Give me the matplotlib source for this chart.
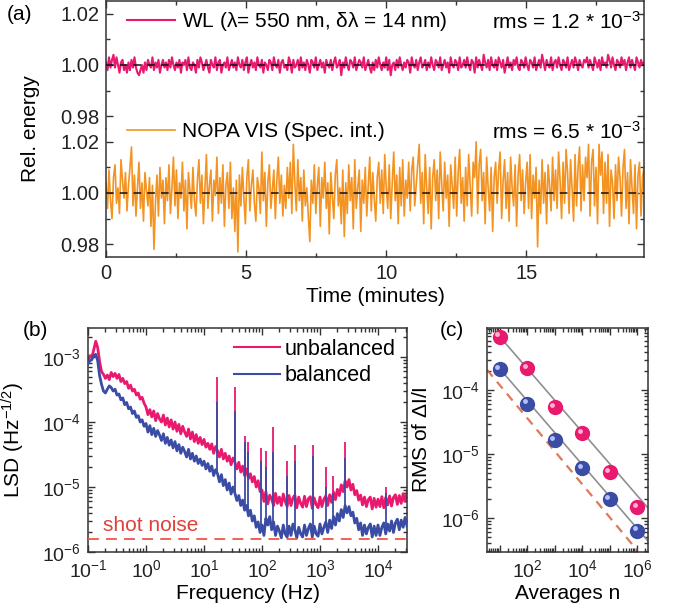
import numpy as np
import matplotlib
matplotlib.use("Agg")
import matplotlib.pyplot as plt
from matplotlib.ticker import LogLocator, NullFormatter, MultipleLocator, FixedLocator
from matplotlib.transforms import offset_copy

plt.rcParams['font.family'] = ['Liberation Sans', 'DejaVu Sans']
plt.rcParams['mathtext.default'] = 'regular'
plt.rcParams['font.size'] = 15
plt.rcParams['axes.linewidth'] = 1.1
plt.rcParams['axes.edgecolor'] = '#333333'

PINK = '#e8196e'
ORANGE = '#f39322'
BLUE = '#3a4ca3'

# ---- panel (a): relative pulse energy, deviations in units of 1e-3 ----
wl_dev = [1, -2, 3, -1, 2, 4, -1, 3, 0, -3, 1, 2, -2, 0, -3, 1, -2, 2, -1, 3,
          -1, -3, -4, -2, 0, -3, 1, -2, 2, 0, -1, 3, -2, 1, -1, 2, -3, 0, 2, -1,
          1, -2, 2, -1, 3, 0, -2, 1, -1, 2, -3, 1, 0, 2, -2, 3, -1, -2, 1, 0,
          -3, 2, -1, 3, 1, -2, 0, 2, -1, -3, 2, 0, -1, 3, -2, 1, 2, -3, 0, 1,
          -1, 3, -2, 0, 2, -1, 1, -2, 3, 0, -1, 2, -2, 1, 3, -3, 0, 2, -1, 1,
          -2, 3, 0, -1, 2, -3, 1, 0, -2, 2, 1, -2, 3, 0, -1, 2, -3, 1, 2, -1,
          0, -2, 3, 1, -3, 2, -1, 0, 2, -2, 3, -1, 1, -2, 2, 0, -3, 2, 1, -1,
          3, -2, 0, 2, -1, 1, -3, 2, 0, -1, 2, -2, 1, 3, -1, 0, 2, -4, 1, -1,
          3, 0, -2, 2, 1, -1, 3, -2, 0, 2, 1, -1, 3, -2, 0, 2, -1, -3, 1, -2,
          2, -1, 3, 0, -2, 1, -1, 3, -2, 2, -4, 0, 1, -2, 2, -1, 3, 0, -2, 1,
          -1, 2, 1, -3, 3, 0, -1, 2, -2, 1, 3, -1, 0, 2, -2, 1, -1, 3, 0, -2,
          2, 1, -1, 3, -2, 0, 2, -1, 1, -3, 3, 0, -1, 2, 1, -2, 3, -1, 0, 2,
          -1, 3, 0, -2, 2, 1, -3, 3, -1, 2, 0, -2, 4, 1, -1, 2, -2, 3, 0, -1,
          2, -2, 3, 1, -1, 2, -3, 0, 3, -1, 1, -2, 2, 0, 3, -1, -2, 2, 1, -1,
          3, 0, -2, 2, 1, -1, 3, -2, 0, 2, -1, 4, 1, -2, 2, 0, -1, 3, -2, 1,
          2, -1, 3, 0, -2, 2, 1, -1, 3, -2, 0, 2, -1, 3, 1, -2, 2, 0, -1, 2,
          1, 3, -1, 2, 0, -2, 3, 1, -1, 2, -2, 3, 0, 1, -1, 4, 2, -1, 3, 0,
          -2, 2, 1, -1, 3, 0, 2, -2, 1, 3, -1, 2, 0, -2, 3, 1, -1, 2, 0, 1]
nopa_dev = [4, -6, 9, -3, -10, 6, 11, -4, 2, -8, 13, 5, -2, 8, -7, 3, 10, 18, -5, 7,
            -9, 2, 12, -6, 4, -11, 8, 1, -5, 6, -13, 3, -22, -4, 7, -9, 10, -2, 5, -12,
            6, -3, 11, -8, 2, 14, -5, 9, -10, 4, -2, 12, -7, 5, -14, 8, 1, -6, 10, -3,
            -9, 5, 13, -4, 7, -12, 2, 15, -6, 3, 9, -11, 5, -1, 14, -8, 6, -4, 11, -13,
            3, 8, -6, 12, -10, 2, -15, 5, -23, 7, -5, 10, -2, -12, 6, 13, -7, 3, 9, -4,
            -11, 6, 2, -8, 16, -3, 8, -13, 4, 11, -6, 1, 9, -10, 5, 14, -4, 7, -9, 3,
            -6, 10, -2, 12, -8, 19, 4, -7, 13, -3, 6, -11, 9, -5, 2, -9, -19, 5, -4, 11,
            -8, 3, 10, -13, 6, -2, 12, -6, 4, -16, 8, -1, -10, 7, 13, -5, 2, -12, 9, -17,
            4, -8, 11, -3, 6, -14, 13, -6, 2, 9, -15, 5, -4, 10, -9, 3, 14, -7, 8, -2,
            -11, 6, 12, -4, 9, -8, 15, 2, -6, 11, -10, 4, 16, -3, 7, -12, 10, -5, 13, -9,
            5, -2, 12, -7, 9, 14, -5, 3, 11, 19, -4, 8, -12, 15, 2, -8, 10, -14, 6, 13,
            -3, 9, -10, 16, 4, -7, 12, -2, 7, -13, 11, 3, -6, 14, -9, 8, 17, -4, 6, -11,
            10, -5, 15, 3, -9, 12, 6, 20, -8, 11, 17, -3, 8, -12, 14, 2, -7, 10, -15, 6,
            12, -4, 9, 16, -10, 5, 13, -6, 8, -11, 14, 2, -5, 11, -13, 7, 15, -3, 9, -8,
            4, 12, -6, 15, -10, 7, -2, 10, -21, 5, -8, 13, -4, 8, -12, 11, 3, -7, 14, -3,
            9, -6, 16, 5, -10, 12, -4, 17, 8, -8, 13, 2, -11, 15, -5, 10, 18, -7, 11, -3,
            14, 6, 19, -9, 12, 17, -5, 10, -12, 19, 7, 16, -8, 12, -4, 15, -13, 9, 4, -10,
            11, -3, 14, 6, -9, 10, 17, -6, 8, -12, 13, 2, -8, 11, -14, 7, 12, -9, 6, 10]
t_end = 19.2  # minutes
top_tick_sec = [100, 200, 300, 400, 500, 600, 700, 800, 900, 1000, 1100]

# ---- panel (b): linear spectral density, units of 1e-6 Hz^-1/2 ----
f_range = (-1, 4.5)  # log10 Hz
lsd_unbal = [900, 1050, 1000, 1300, 1750, 1400, 850, 600, 540, 470, 530, 450, 580, 500, 560,
             470, 540, 420, 470, 390, 420, 330, 370, 300, 320, 260, 280, 225, 240, 195,
             170, 130, 155, 120, 148, 105, 135, 112, 100, 128, 90, 115, 84, 108, 78,
             100, 72, 92, 66, 86, 70, 60, 78, 55, 70, 50, 64, 47, 58, 45,
             54, 41, 47, 38, 46, 33, 42, 36, 29, 38, 27, 33, 25, 30, 22,
             28, 24, 19, 24, 17, 21, 15, 19, 13.5, 16, 12, 14.5, 10, 12.5, 8.5,
             9, 6, 8.5, 5.5, 7.5, 6.5, 5.2, 8, 5.6, 7, 5.2, 7.8, 6, 5, 7.4,
             5.2, 6.8, 7.5, 4.8, 7, 5.6, 4.9, 7.2, 5, 6.6, 7.1, 4.7, 6.8, 5.4, 4.8,
             7, 5, 6.5, 7.3, 5.2, 7.6, 5.8, 8.4, 6.4, 9.2, 7.4, 10.8, 8.5, 12.5, 10,
             13, 9, 11, 7.6, 8.8, 6.3, 7.5, 5.3, 7, 5, 6.4, 7, 4.6, 6.7, 4.9,
             6.5, 5, 7.1, 4.8, 6.9, 5.3, 7.3, 5.1, 6.9, 7.6, 5.4, 7.4, 5.6, 7.9, 6, 8.2]
lsd_bal = [780, 880, 920, 1050, 1100, 880, 520, 380, 300, 280, 320, 360, 340, 300, 320,
           260, 270, 220, 235, 185, 200, 160, 170, 135, 148, 118, 125, 100, 108, 86,
           95, 70, 88, 64, 80, 60, 74, 63, 52, 66, 47, 58, 44, 53, 40,
           50, 36, 45, 33, 41, 35, 29, 38, 27, 33, 25, 30, 23, 27, 21.5,
           25, 19, 23, 17.5, 21, 15, 18.5, 16, 12, 15.5, 10.5, 13, 9, 11.5, 7.8,
           10, 8, 6.2, 7.4, 5.2, 6.3, 4.4, 5.2, 3.6, 4.4, 3, 3.6, 2.4, 2.9, 2,
           2.6, 1.8, 3.3, 2.6, 3.5, 2.2, 2.9, 1.8, 2.5, 2.1, 1.65, 2.6, 1.9, 1.7, 2.5,
           1.8, 2.7, 2.2, 1.65, 2.4, 1.9, 1.7, 2.6, 1.8, 2.3, 2.7, 1.7, 2.5, 1.9, 1.75,
           2.7, 1.9, 2.4, 2.9, 2, 3.1, 2.3, 3.5, 2.6, 3.9, 3, 4.5, 3.4, 5.2, 4,
           5, 3.6, 4.1, 2.8, 3.3, 2.2, 2.8, 1.8, 2.6, 1.9, 2.4, 2.7, 1.7, 2.5, 1.8,
           2.6, 1.8, 2.4, 2.8, 1.9, 2.7, 2.1, 3, 2, 2.8, 3.2, 2.2, 3.1, 2.4, 3.4, 2.5]
spike_f = [16.5, 34, 50, 57, 95, 117, 155, 270, 370, 760, 1250, 1650, 2700, 14000]
spike_unbal = [500, 350, 60, 50, 40, 36, 84, 25, 45, 44, 20, 15, 50, 10]
spike_bal = [200, 150, 50, 35, 25, 20, 35, 15, 25, 30, 10, 8, 28, 8]
shot_noise = 1.6  # 1e-6 Hz^-1/2

# ---- panel (c): RMS vs number of averages ----
n_avg = [1e1, 1e2, 1e3, 1e4, 1e5, 1e6]
rms_unbal = [6.9e-4, 2.2e-4, 5.4e-5, 2.1e-5, 5.2e-6, 1.45e-6]
rms_bal = [2.15e-4, 6.2e-5, 1.65e-5, 6.0e-6, 1.95e-6, 6.2e-7]
fit_n = [10, 2.4e6]
fit_unbal = [7.0e-4, 1.45e-6]
fit_bal = [2.2e-4, 4.4e-7]
shot_n = [3.5, 1.0e6]
shot_rms = [2.1e-4, 3.1e-7]

fig = plt.figure(figsize=(6.77, 6.15), dpi=100)
W, H = 677.0, 615.0


def box(l, t, r, b):
    return [l / W, 1 - b / H, (r - l) / W, (b - t) / H]


def style(ax):
    ax.tick_params(which='both', direction='in', top=True, right=True,
                   colors='#333333', labelcolor='#222222', width=1.0, labelsize=14)
    ax.tick_params(which='major', length=5, pad=5)
    ax.tick_params(which='minor', length=3)


# (a)
ax1 = fig.add_axes(box(106, 1, 644, 129))
ax2 = fig.add_axes(box(106, 129, 644, 257), sharex=ax1)
t_wl = np.linspace(0, t_end, len(wl_dev))
t_nopa = np.linspace(0, t_end, len(nopa_dev))
ax1.plot(t_wl, 1 + np.array(wl_dev) * 1e-3, color=PINK, lw=1.5,
         label=r'WL ($\lambda$= 550 nm, $\delta\lambda$ = 14 nm)')
ax2.plot(t_nopa, 1 + np.array(nopa_dev) * 1e-3, color=ORANGE, lw=1.2,
         label='NOPA VIS (Spec. int.)')
for ax in (ax1, ax2):
    ax.axhline(1.0, color='#111111', lw=1.1, ls=(0, (5, 4)), zorder=3)
    ax.set_ylim(0.975, 1.025)
    ax.set_xlim(0, t_end)
    ax.yaxis.set_major_locator(FixedLocator([0.98, 1.00, 1.02]))
    ax.yaxis.set_minor_locator(FixedLocator([0.99, 1.01]))
    ax.set_yticklabels(['0.98', '1.00', '1.02'])
    style(ax)
    ax.tick_params(labelsize=14.5)
ax1.spines['bottom'].set_visible(False)
ax2.spines['top'].set_visible(False)
ax1.tick_params(which='both', bottom=False, labelbottom=False)
ax2.tick_params(which='both', top=False)
ax1.xaxis.set_major_locator(FixedLocator(np.array(top_tick_sec) / 60.0))
ax1.xaxis.set_minor_locator(FixedLocator([]))
ax2.xaxis.set_major_locator(MultipleLocator(5))
ax2.xaxis.set_minor_locator(MultipleLocator(2.5))
ax2.set_xlabel('Time (minutes)', labelpad=3)
ax1.legend(loc='center left', bbox_to_anchor=(0.024, 0.836), borderaxespad=0,
           frameon=False, handlelength=2.3, handletextpad=0.33)
ax2.legend(loc='center left', bbox_to_anchor=(0.024, 0.977), borderaxespad=0,
           frameon=False, handlelength=2.3, handletextpad=0.33)
ax1.text(0.993, 0.836, r'rms = 1.2 * 10$^{-3}$', transform=ax1.transAxes,
         ha='right', va='center')
ax2.text(0.993, 0.977, r'rms = 6.5 * 10$^{-3}$', transform=ax2.transAxes,
         ha='right', va='center')
fig.text(30 / W, 1 - 129 / H, 'Rel. energy', rotation=90, ha='center', va='center')
fig.text(7 / W, 1 - 14 / H, '(a)', ha='left', va='center')

# (b)
axb = fig.add_axes(box(88, 328, 407, 552))
freq = np.logspace(f_range[0], f_range[1], len(lsd_unbal))
unbal = np.array(lsd_unbal) * 1e-6
bal = np.array(lsd_bal) * 1e-6
axb.plot(freq, unbal, color=PINK, lw=2.0, label='unbalanced', zorder=2)
base_u = np.interp(np.log10(spike_f), np.log10(freq), unbal)
axb.vlines(spike_f, base_u, np.array(spike_unbal) * 1e-6, color=PINK, lw=1.3, zorder=2)
axb.plot(freq, bal, color=BLUE, lw=2.0, label='balanced', zorder=3)
base_b = np.interp(np.log10(spike_f), np.log10(freq), bal)
axb.vlines(spike_f, base_b, np.array(spike_bal) * 1e-6, color=BLUE, lw=1.3, zorder=3)
axb.axhline(shot_noise * 1e-6, color='#ee5545', lw=1.3, ls=(0, (6, 4)), zorder=4)
axb.text(0.047, 0.12, 'shot noise', color='#e0403a', transform=axb.transAxes,
         ha='left', va='center', fontsize=15)
axb.set_xscale('log')
axb.set_yscale('log')
axb.set_xlim(10 ** f_range[0], 10 ** f_range[1])
axb.set_ylim(1e-6, 2.8e-3)
for a in (axb.xaxis, axb.yaxis):
    a.set_major_locator(LogLocator(base=10, numticks=20))
    a.set_minor_locator(LogLocator(base=10, subs=np.arange(2, 10), numticks=20))
    a.set_minor_formatter(NullFormatter())
style(axb)
axb.set_xlabel('Frequency (Hz)', labelpad=2)
axb.set_ylabel(r'LSD (Hz$^{-1/2}$)')
axb.yaxis.set_label_coords(-0.19, 0.5)
leg = axb.legend(loc='upper right', bbox_to_anchor=(0.99, 0.99), borderaxespad=0,
                 frameon=False, handlelength=2.14, handletextpad=0.2, labelspacing=0.26,
                 fontsize=15.5)
for h in leg.get_lines():
    h.set_linewidth(1.5)
fig.text(23 / W, 1 - 330 / H, '(b)', ha='left', va='center')

# (c)
axc = fig.add_axes(box(487, 328, 648, 552))
axc.plot(fit_n, fit_unbal, color='#8f8f8f', lw=1.2, zorder=2)
axc.plot(fit_n, fit_bal, color='#8f8f8f', lw=1.2, zorder=2)
axc.plot(shot_n, shot_rms, color='#d9623f', lw=1.6, ls=(0, (4, 3)), alpha=0.85, zorder=2)
hl = offset_copy(axc.transData, fig=fig, x=-1.8, y=1.8, units='points')
for vals, col, light in ((rms_unbal, PINK, '#ffb3cf'), (rms_bal, BLUE, '#b5c0ff')):
    axc.plot(n_avg, vals, 'o', ms=10, color=col, mec=col, zorder=4)
    axc.plot(n_avg, vals, 'o', ms=3.5, color=light, mec='none', zorder=5, transform=hl)
axc.set_xscale('log')
axc.set_yscale('log')
axc.set_xlim(3.5, 2.5e6)
axc.set_ylim(2.9e-7, 9.5e-4)
axc.xaxis.set_major_locator(FixedLocator([1e1, 1e2, 1e3, 1e4, 1e5, 1e6]))
axc.set_xticklabels(['', '10$^{2}$', '', '10$^{4}$', '', '10$^{6}$'])
axc.xaxis.set_minor_locator(LogLocator(base=10, subs=np.arange(2, 10), numticks=20))
axc.xaxis.set_minor_formatter(NullFormatter())
axc.yaxis.set_major_locator(LogLocator(base=10, numticks=20))
axc.yaxis.set_minor_locator(LogLocator(base=10, subs=np.arange(2, 10), numticks=20))
axc.yaxis.set_minor_formatter(NullFormatter())
style(axc)
axc.set_xlabel('Averages n', labelpad=2)
axc.set_ylabel(r'RMS of $\Delta$I/I')
axc.yaxis.set_label_coords(-0.35, 0.5)
fig.text(440 / W, 1 - 330 / H, '(c)', ha='left', va='center')

fig.savefig('out.png', dpi=100)
